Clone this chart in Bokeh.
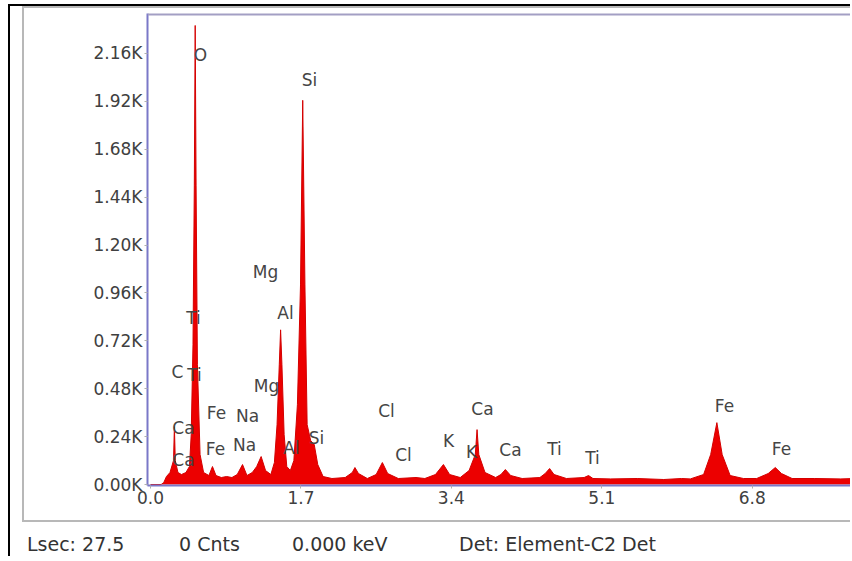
from bokeh.plotting import figure
from bokeh.models import ColumnDataSource, FixedTicker, Span, Div
from bokeh.layouts import column
from bokeh.core.properties import value
from bokeh.embed import file_html
from bokeh.resources import INLINE

# ---- spectrum (keV, counts) ----
energy = [0.00, 0.12, 0.15, 0.18, 0.22, 0.26, 0.27, 0.28, 0.31, 0.35, 0.40, 0.44, 0.46,
          0.48, 0.495, 0.505, 0.515, 0.53, 0.56, 0.60, 0.66, 0.70, 0.74, 0.80, 0.86,
          0.92, 0.98, 1.04, 1.09, 1.15, 1.20, 1.25, 1.30, 1.36, 1.40, 1.43, 1.455,
          1.47, 1.485, 1.51, 1.54, 1.58, 1.62, 1.66, 1.695, 1.72, 1.745, 1.77, 1.81,
          1.85, 1.89, 1.95, 2.05, 2.20, 2.28, 2.31, 2.35, 2.45, 2.55, 2.62, 2.68,
          2.80, 3.00, 3.10, 3.22, 3.31, 3.38, 3.50, 3.60, 3.67, 3.69, 3.71, 3.78,
          3.90, 3.96, 4.01, 4.07, 4.20, 4.40, 4.46, 4.51, 4.56, 4.70, 4.90, 4.95,
          5.00, 5.20, 5.50, 5.80, 6.00, 6.10, 6.25, 6.33, 6.40, 6.46, 6.55, 6.70,
          6.85, 6.98, 7.06, 7.13, 7.25, 7.50, 7.80, 7.95]
counts = [0, 0, 10, 40, 60, 120, 290, 120, 60, 50, 60, 90, 250,
          700, 1500, 2300, 1500, 600, 150, 60, 45, 90, 45, 35, 40,
          35, 50, 100, 45, 60, 90, 140, 70, 50, 110, 300, 600,
          775, 600, 250, 90, 70, 120, 400, 1000, 1925, 1000, 300, 220,
          200, 100, 40, 30, 35, 60, 85, 55, 30, 50, 110, 55,
          30, 35, 30, 50, 100, 50, 35, 70, 150, 275, 150, 60,
          35, 50, 75, 45, 30, 35, 55, 80, 50, 30, 35, 45,
          30, 28, 30, 25, 30, 28, 50, 150, 310, 150, 45, 30,
          30, 55, 85, 55, 30, 30, 28, 30]

# ---- element labels ----
peak_names = ["O", "Si", "Mg", "Ti", "Al", "C", "Ti", "Mg", "Fe", "Na", "Ca", "Cl",
              "Ca", "Si", "Al", "Fe", "Na", "Ca", "Cl", "K", "K", "Ca", "Ti", "Ti",
              "Fe", "Fe"]
peak_e = [0.565, 1.797, 1.30, 0.486, 1.525, 0.305, 0.497, 1.311, 0.746, 1.096, 0.373, 2.667,
          3.751, 1.876, 1.593, 0.734, 1.062, 0.373, 2.859, 3.367, 3.627, 4.068, 4.565, 4.994,
          6.486, 7.13]
peak_c = [2150, 2025, 1065, 835, 860, 565, 550, 495, 360, 345, 285, 370,
          380, 235, 185, 180, 200, 125, 150, 220, 165, 175, 180, 135,
          395, 180]

x_ticks = [0.0, 1.7, 3.4, 5.1, 6.8]
x_tick_labels = ["0.0", "1.7", "3.4", "5.1", "6.8"]
y_ticks = [0, 240, 480, 720, 960, 1200, 1440, 1680, 1920, 2160]
y_tick_labels = ["0.00K", "0.24K", "0.48K", "0.72K", "0.96K", "1.20K", "1.44K",
                 "1.68K", "1.92K", "2.16K"]

status_texts = ["Lsec: 27.5", "0 Cnts", "0.000 keV", "Det: Element-C2 Det"]
status_left = [17, 169, 282, 449]

FONT = "DejaVu Sans"

p = figure(width=826, height=512, output_backend="svg", toolbar_location=None,
           x_range=(-0.034, 7.91), y_range=(-5, 2360),
           min_border_left=123, min_border_top=5, min_border_bottom=35,
           min_border_right=0)
p.grid.visible = False
p.outline_line_color = None
p.background_fill_color = "white"
p.border_fill_color = "white"

# spectrum
p.varea(x=energy, y1=0, y2=counts, fill_color="#ec0000")
p.line(x=energy, y=counts, line_color="#d40000", line_width=1)

# element labels
src = ColumnDataSource(dict(e=peak_e, c=peak_c, name=peak_names))
p.text(x="e", y="c", text="name", source=src, text_align="center",
       text_baseline="middle", text_font=value(FONT), text_font_size="17px",
       text_color="#454545")

# axes
p.xaxis.ticker = FixedTicker(ticks=x_ticks)
p.xaxis.major_label_overrides = {t: l for t, l in zip(x_ticks, x_tick_labels)}
p.yaxis.ticker = FixedTicker(ticks=y_ticks)
p.yaxis.major_label_overrides = {t: l for t, l in zip(y_ticks, y_tick_labels)}
for ax in (p.xaxis, p.yaxis):
    ax.axis_line_color = "#7a78c8"
    ax.axis_line_width = 2
    ax.major_tick_line_color = "#b0b0b0"
    ax.major_tick_in = 0
    ax.major_tick_out = 3
    ax.minor_tick_line_color = None
    ax.major_label_text_font = FONT
    ax.major_label_text_font_size = "17px"
    ax.major_label_text_color = "#404040"
    ax.major_label_standoff = 2

# top lavender frame bar
p.add_layout(Span(location=2360, dimension="width", line_color="#a39fc4", line_width=4))

spans = "".join(
    f'<span style="position:absolute; left:{x}px; top:12px; line-height:20px; '
    f'white-space:nowrap;">{t}</span>'
    for t, x in zip(status_texts, status_left))
status = Div(text=(f'<div style="position:relative; width:820px; height:34px; '
                   f'font-family:\'{FONT}\'; font-size:19px; color:#333333;">{spans}</div>'),
             width=820, height=34, margin=(0, 0, 0, 0))

panel = column(p, margin=(0, 0, 0, 12),
               styles={"border-left": "2px solid #b8b8b8",
                       "border-top": "2px solid #b8b8b8",
                       "border-bottom": "2px solid #b8b8b8"})
outer = column(panel, status, margin=(4, 0, 0, 8),
               styles={"border-left": "2px solid #000000",
                       "border-top": "2px solid #000000"})

open("out.html", "w").write(file_html(outer, INLINE))
